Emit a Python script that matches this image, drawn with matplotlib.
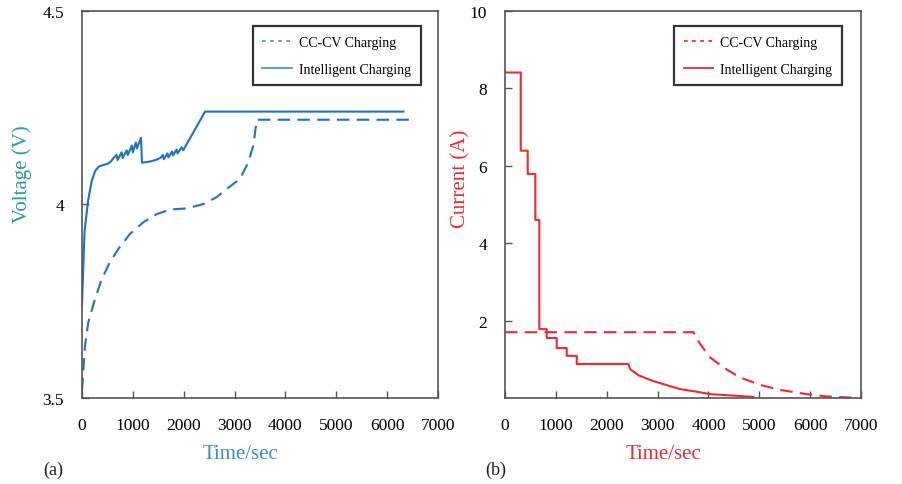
import matplotlib
matplotlib.use("Agg")
import matplotlib.pyplot as plt
from matplotlib.lines import Line2D

plt.rcParams['font.family'] = ['Liberation Serif', 'DejaVu Serif']

# (a) voltage, seconds / volts
t_v_cccv = [0, 59, 124, 256, 387, 550, 714, 944, 1205, 1469, 1730, 2058, 2385,
            2648, 2845, 3106, 3269, 3368, 3421, 3435, 6494]
v_cccv = [3.52, 3.635, 3.696, 3.756, 3.807, 3.851, 3.885, 3.924, 3.954, 3.975,
          3.987, 3.990, 4.001, 4.019, 4.040, 4.066, 4.109, 4.152, 4.204, 4.219, 4.219]

t_v_intel = [0, 50, 120, 190, 260, 330, 420, 500, 560, 620, 680, 700, 780, 800,
             880, 900, 980, 1000, 1060, 1080, 1160, 1180, 1300, 1450, 1560, 1590,
             1610, 1680, 1700, 1770, 1790, 1860, 1880, 1960, 1990, 2420, 6320]
v_intel = [3.74, 3.93, 4.01, 4.06, 4.087, 4.098, 4.102, 4.105, 4.11, 4.12, 4.128,
           4.115, 4.135, 4.12, 4.14, 4.128, 4.152, 4.135, 4.16, 4.145, 4.172, 4.108,
           4.11, 4.115, 4.122, 4.128, 4.117, 4.132, 4.122, 4.137, 4.127, 4.142,
           4.132, 4.148, 4.14, 4.24, 4.24]

# (b) current, seconds / amps
t_i_cccv = [0, 3702, 3834, 4030, 4292, 4621, 5014, 5407, 5931, 6325, 6816]
i_cccv = [1.70, 1.70, 1.40, 1.05, 0.79, 0.53, 0.34, 0.21, 0.10, 0.04, 0.01]

t_i_intel = [0, 309, 309, 446, 446, 596, 596, 674, 674, 820, 820, 1016, 1016,
             1213, 1213, 1410, 1410, 2424, 2458, 2621, 2884, 3211, 3441, 3735,
             4030, 4882]
i_intel = [8.41, 8.41, 6.39, 6.39, 5.79, 5.79, 4.60, 4.60, 1.78, 1.78, 1.55, 1.55,
           1.29, 1.29, 1.09, 1.09, 0.88, 0.88, 0.75, 0.59, 0.45, 0.32, 0.23, 0.17,
           0.10, 0.03]

x_ticks = [0, 1000, 2000, 3000, 4000, 5000, 6000, 7000]
legend_labels = ['CC-CV Charging', 'Intelligent Charging']

blue = '#1f72c0'
red = '#ee2a30'
frame = '#555555'

fig = plt.figure(figsize=(9.02, 4.85), dpi=100)
ax1 = fig.add_axes([0.0909, 0.1773, 0.3947, 0.798])
ax2 = fig.add_axes([0.5599, 0.1773, 0.3947, 0.798])


def style_axes(ax):
    for s in ax.spines.values():
        s.set_color(frame)
        s.set_linewidth(1.2)
    ax.tick_params(direction='in', length=5, width=1, color=frame,
                   labelsize=12.5, top=False, right=False)
    ax.tick_params(axis='y', pad=13)
    ax.tick_params(axis='x', pad=14)
    ax.set_xlim(0, 7000)
    ax.set_xticks(x_ticks)


def add_legend(ax, color, anchor):
    handles = [Line2D([], [], color=color, lw=1.3, dashes=(2, 2.5)),
               Line2D([], [], color=color, lw=1.3)]
    leg = ax.legend(handles, legend_labels, loc='upper right',
                    bbox_to_anchor=anchor, borderaxespad=0, fontsize=10,
                    fancybox=False, edgecolor='black', handlelength=2.1,
                    handletextpad=0.55, borderpad=0.7, labelspacing=1.0)
    leg.get_frame().set_linewidth(1.6)


# voltage
ax1.plot(t_v_cccv, v_cccv, color=blue, lw=1.5, dashes=(6, 3.5))
ax1.plot(t_v_intel, v_intel, color=blue, lw=1.5)
style_axes(ax1)
ax1.set_ylim(3.5, 4.5)
ax1.set_yticks([3.5, 4, 4.5])
ax1.set_yticklabels(['3.5', '4', '4.5'])
ax1.set_ylabel('Voltage (V)', color='#2a9aa6', fontsize=15)
ax1.yaxis.set_label_coords(-0.14, 0.58)
ax1.set_xlabel('Time/sec', color='#3a8ad6', fontsize=15)
ax1.xaxis.set_label_coords(0.444, -0.12)
add_legend(ax1, '#4a95d8', (0.952, 0.961))

# current
ax2.plot(t_i_cccv, i_cccv, color=red, lw=1.5, dashes=(6, 3.5))
ax2.plot(t_i_intel, i_intel, color=red, lw=1.5)
style_axes(ax2)
ax2.set_ylim(0, 10)
ax2.set_yticks([2, 4, 6, 8, 10])
ax2.set_ylabel('Current (A)', color=red, fontsize=15)
ax2.yaxis.set_label_coords(-0.098, 0.57)
ax2.set_xlabel('Time/sec', color=red, fontsize=15)
ax2.xaxis.set_label_coords(0.444, -0.12)
add_legend(ax2, red, (0.947, 0.961))

fig.text(0.048, 0.02, '(a)', fontsize=13, color='#222222')
fig.text(0.538, 0.02, '(b)', fontsize=13, color='#222222')

fig.savefig('out.png', dpi=100)
